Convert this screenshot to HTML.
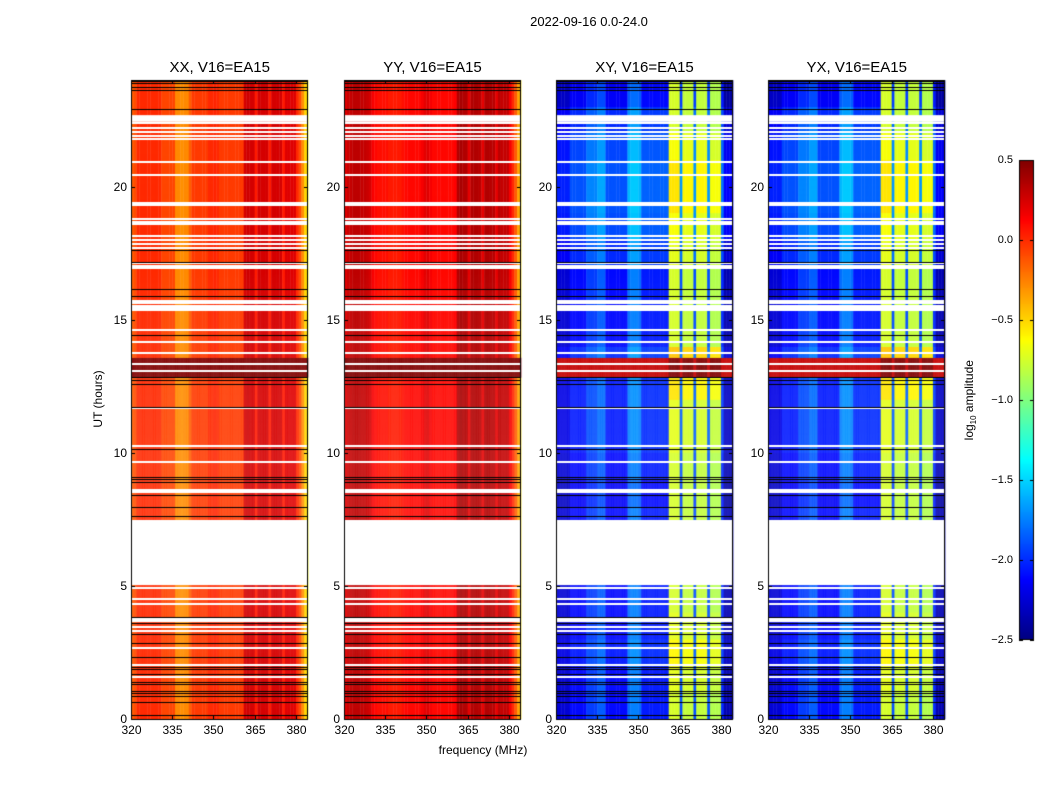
<!DOCTYPE html>
<html><head><meta charset="utf-8"><style>
body{margin:0;background:#fff;}
#wrap{position:relative;width:1050px;height:800px;font-family:"Liberation Sans",sans-serif;color:#000;overflow:hidden;}
.t{position:absolute;white-space:nowrap;}
canvas{position:absolute;left:0;top:0;}
</style></head><body>
<div id="wrap">
<canvas id="cv" width="1050" height="800"></canvas>
<div class="t" style="left:0;width:1178px;top:14px;text-align:center;font-size:13px">2022-09-16 0.0-24.0</div>
<div class="t" style="left:383px;width:200px;top:743px;text-align:center;font-size:12px">frequency (MHz)</div>
<div class="t" style="left:48px;top:392px;width:100px;text-align:center;font-size:12px;transform:rotate(-90deg)">UT (hours)</div>
<div class="t" style="left:920px;top:392px;width:100px;text-align:center;font-size:12px;transform:rotate(-90deg)">log<sub style="font-size:8px">10</sub> amplitude</div>
<div id="labels"></div>
</div>
<script>
// ---- data ----
const freqs = [];
for (let f = 320; f <= 384; f++) freqs.push(f);
const profXX = [-0.15,-0.1,0.0,0.0,0.0,0.0,0.0,0.0,0.0,0.0,0.0,-0.08,-0.08,-0.08,-0.08,-0.08,-0.28,-0.28,-0.3,-0.28,-0.28,-0.15,-0.05,-0.05,-0.05,-0.05,-0.05,-0.05,0.0,0.0,0.02,0.0,-0.05,-0.05,-0.05,-0.05,-0.05,-0.05,-0.05,-0.05,-0.05,0.25,0.27,0.25,0.25,0.05,0.25,0.25,0.25,0.25,0.05,0.25,0.25,0.25,0.25,0.05,0.22,0.22,0.22,0.22,0.0,-0.1,-0.3,-0.5,-0.65];
const profYY = [0.2,0.28,0.3,0.32,0.32,0.32,0.3,0.3,0.28,0.25,0.15,0.1,0.08,0.08,0.08,0.08,0.05,0.05,0.05,0.05,0.05,0.08,0.1,0.1,0.1,0.1,0.1,0.1,0.15,0.2,0.22,0.15,0.1,0.1,0.1,0.1,0.1,0.1,0.1,0.1,0.12,0.35,0.38,0.35,0.35,0.2,0.35,0.35,0.35,0.33,0.2,0.35,0.35,0.33,0.33,0.2,0.32,0.3,0.3,0.3,0.15,0.0,-0.15,-0.35,-0.55];
const profXY = [-2.25,-2.25,-2.25,-2.25,-2.25,-2.1,-2.1,-2.1,-2.1,-2.1,-2.1,-1.95,-1.95,-1.95,-1.95,-1.85,-1.85,-1.85,-2.1,-2.1,-2.1,-2.1,-2.1,-2.1,-2.1,-2.1,-1.8,-1.75,-1.75,-1.75,-1.8,-2.05,-2.05,-2.05,-2.05,-2.05,-2.05,-2.05,-2.05,-2.05,-2.05,-0.75,-0.75,-0.75,-0.75,-1.9,-0.8,-0.8,-0.8,-0.8,-1.9,-0.8,-0.8,-0.8,-0.8,-1.9,-0.85,-0.85,-0.85,-0.85,-2.0,-2.35,-2.35,-2.35,-2.35];
const profYX = [-2.25,-2.25,-2.25,-2.25,-2.25,-2.1,-2.1,-2.1,-2.1,-2.1,-2.1,-1.95,-1.95,-1.95,-1.95,-1.85,-1.85,-1.85,-2.1,-2.1,-2.1,-2.1,-2.1,-2.1,-2.1,-2.1,-1.8,-1.75,-1.75,-1.75,-1.8,-2.05,-2.05,-2.05,-2.05,-2.05,-2.05,-2.05,-2.05,-2.05,-2.05,-0.75,-0.75,-0.75,-0.75,-1.9,-0.8,-0.8,-0.8,-0.8,-1.9,-0.8,-0.8,-0.8,-0.8,-1.9,-0.85,-0.85,-0.85,-0.85,-2.0,-2.35,-2.35,-2.35,-2.35];
// per-hour background offsets for cross-pols (hours 0..23)
const hourOffsetCross = [0,0,0.05,0,0,0,0,0,-0.05,0,0.05,0.05,0.05,0.1,0,0,0,0.1,0.2,0.22,0.22,0.18,0.1,-0.05];
const hourStripCross = [0,0.05,0.15,0.05,0,0,0,0,0,0,0.05,0.05,0.2,0.3,0,0,0,0.05,0.1,0.2,0.2,0.1,0,0];
const whiteRows = [22.38,22.19,22.04,21.89,21.78,20.92,20.43,19.38,19.30,18.78,18.66,18.59,18.14,17.99,17.84,17.69,17.12,17.01,16.94,15.70,15.62,15.51,15.44,15.36,14.61,14.16,13.75,13.33,13.07,11.68,10.25,9.65,8.60,8.52,7.43,4.92,4.51,4.32,3.45,3.30,2.67,2.03,1.58];
const whiteBlocks = [[22.43,22.68],[5.03,7.40],[3.64,3.83]];
const blackRows = [23.96,23.88,23.73,23.62,22.91,17.61,17.16,16.15,15.88,14.42,12.84,12.73,12.58,11.72,10.14,9.09,9.01,8.90,8.41,7.96,7.62,3.83,3.60,3.19,2.85,2.33,1.95,1.88,1.69,1.39,1.31,1.05,0.98,0.86,0.64,0.15];
const saturatedBand = [12.84,13.56];
const panelTitles = ["XX, V16=EA15","YY, V16=EA15","XY, V16=EA15","YX, V16=EA15"];
const xTicks = [320,335,350,365,380];
const yTicks = [0,5,10,15,20];
const cbTicks = [0.5,0.0,-0.5,-1.0,-1.5,-2.0,-2.5];
// ---- layout ----
const panelX = [131,344,556,768], PW=177, PT=80, PB=719;
const FMIN=320, FMAX=384.4, VMIN=-2.5, VMAX=0.5;
const yScale = h => PB - (h/24)*(PB-PT);
const xScale = (i,f) => panelX[i] + (f-FMIN)/(FMAX-FMIN)*PW;
function jet(v){
  let t=(v-VMIN)/(VMAX-VMIN); t=Math.max(0,Math.min(1,t));
  const c=x=>Math.max(0,Math.min(1,x));
  const r=c(Math.min(4*t-1.5,-4*t+4.5)), g=c(Math.min(4*t-0.5,-4*t+3.5)), b=c(Math.min(4*t+0.5,-4*t+2.5));
  return `rgb(${Math.round(r*255)},${Math.round(g*255)},${Math.round(b*255)})`;
}
const cv=document.getElementById('cv'), ctx=cv.getContext('2d');
const labels=document.getElementById('labels');
function addLabel(txt,x,y,align,name,size){
  const d=document.createElement('div');
  d.className='t';d.textContent=txt;
  d.style.fontSize=(size||12)+'px';
  d.style.top=y+'px';
  if(align==='c'){d.style.left=(x-50)+'px';d.style.width='100px';d.style.textAlign='center';}
  else if(align==='r'){d.style.left=(x-60)+'px';d.style.width='60px';d.style.textAlign='right';}
  else d.style.left=x+'px';
  
  
  labels.appendChild(d);
}
const profs=[profXX,profYY,profXY,profYX];
const NT=640, dh=24/NT;
for(let p=0;p<4;p++){
  const prof=profs[p], cross=p>=2;
  for(let r=0;r<NT;r++){
    const h=r*dh+dh/2;
    const hi=Math.min(23,Math.floor(h));
    const y0=yScale(h+dh/2), y1=yScale(h-dh/2);
    for(let k=0;k<freqs.length;k++){
      let v=prof[k];
      const inStrip = freqs[k]>=361 && freqs[k]<=379 && prof[k]>-1.5;
      if(cross){ v+= inStrip ? hourStripCross[hi] : hourOffsetCross[hi]; }
      if(h>=saturatedBand[0]&&h<=saturatedBand[1]) v = cross ? (inStrip?0.5:0.3) : 0.5;
      ctx.fillStyle=jet(v);
      const xa=xScale(p,freqs[k]), xb=Math.min(xScale(p,freqs[k]+1),panelX[p]+PW);
      ctx.fillRect(xa,y0,xb-xa+0.3,y1-y0+0.3);
    }
  }
  ctx.fillStyle='#fff';
  whiteBlocks.forEach(b=>{ctx.fillRect(panelX[p],yScale(b[1]),PW,yScale(b[0])-yScale(b[1]));});
  whiteRows.forEach(h=>{ctx.fillRect(panelX[p],Math.round(yScale(h))-1,PW,2);});
  ctx.fillStyle='#000';
  blackRows.forEach(h=>{ctx.fillRect(panelX[p],Math.round(yScale(h)),PW,1);});
  // frame
  ctx.strokeStyle='#000';ctx.lineWidth=1;
  ctx.strokeRect(panelX[p]+0.5,PT+0.5,PW-1,PB-PT);
  // ticks
  ctx.beginPath();
  xTicks.forEach(f=>{const x=Math.round(xScale(p,f))+0.5;ctx.moveTo(x,PB);ctx.lineTo(x,PB-4);ctx.moveTo(x,PT);ctx.lineTo(x,PT+4);
    addLabel(String(f),x,723,'c','x-tick-label',12);});
  yTicks.forEach(h=>{const y=Math.round(yScale(h))+0.5;ctx.moveTo(panelX[p],y);ctx.lineTo(panelX[p]+4,y);ctx.moveTo(panelX[p]+PW,y);ctx.lineTo(panelX[p]+PW-4,y);
    addLabel(String(h),panelX[p]-4,y-8,'r','y-tick-label',12);});
  ctx.stroke();
  addLabel(panelTitles[p],panelX[p]+PW/2,59,'c','panel-title',15);
}
// colorbar
const CBX=1019, CBW=15, CBT=160, CBB=640;
const cbY=v=>CBB-(v-VMIN)/(VMAX-VMIN)*(CBB-CBT);
for(let y=CBT;y<CBB;y++){ctx.fillStyle=jet(VMAX-(y-CBT+0.5)/(CBB-CBT)*(VMAX-VMIN));ctx.fillRect(CBX,y,CBW,1);}
ctx.strokeStyle='#000';ctx.strokeRect(CBX+0.5,CBT+0.5,CBW-1,CBB-CBT-1);
ctx.beginPath();
cbTicks.forEach(v=>{const y=Math.round(cbY(v))+0.5;ctx.moveTo(CBX,y);ctx.lineTo(CBX+4,y);ctx.moveTo(CBX+CBW,y);ctx.lineTo(CBX+CBW-4,y);
  addLabel(v.toFixed(1).replace('-','\u2212'),1013,y-7,'r','colorbar-tick-label',11);});
ctx.stroke();
</script>
</body></html>
